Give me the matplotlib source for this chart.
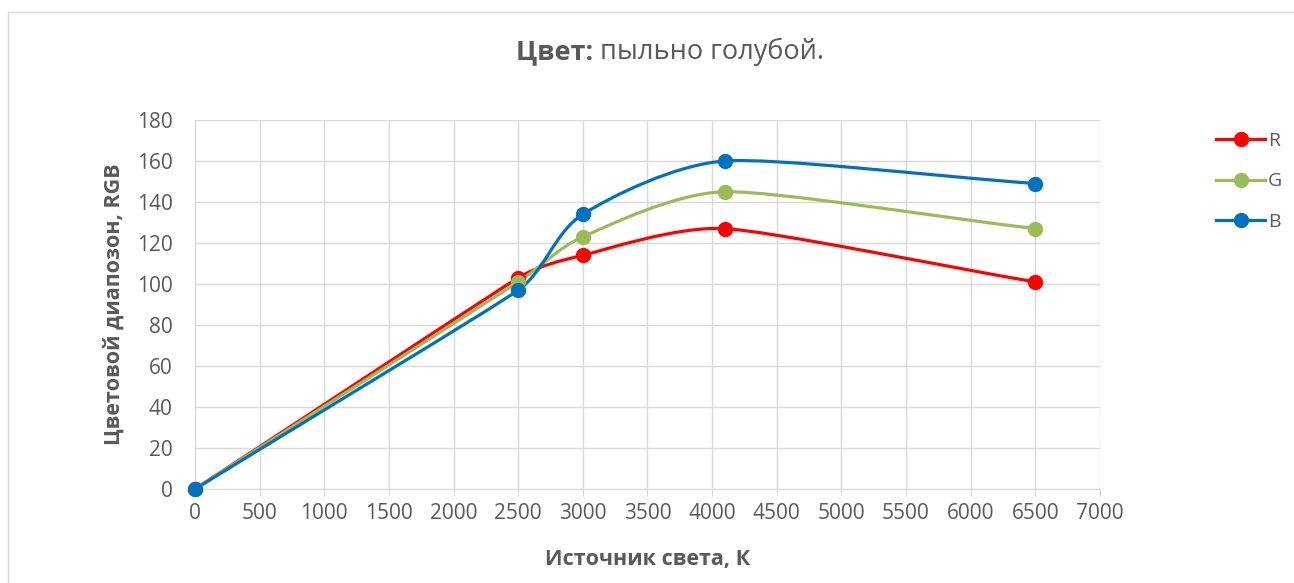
import matplotlib
matplotlib.use("Agg")
import matplotlib.pyplot as plt
from matplotlib.path import Path
from matplotlib.patches import PathPatch, Rectangle
from matplotlib.lines import Line2D

# data
kelvin = [0, 2500, 3000, 4100, 6500]
r_vals = [0, 103, 114, 127, 101]
g_vals = [0, 101, 123, 145, 127]
b_vals = [0, 97, 134, 160, 149]

series_names = ["R", "G", "B"]
series_colors = ["#FF0000", "#9BBB59", "#0070C0"]

plt.rcParams['font.family'] = ['Open Sans', 'DejaVu Sans']

# rough pixel scale of the axes, used only to measure segment lengths
SX = 905 / 7000
SY = 369 / 180


def seglen(a, b):
    return (((b[0] - a[0]) * SX) ** 2 + ((b[1] - a[1]) * SY) ** 2) ** 0.5


def handle(prev, cur, nxt, arm):
    # tangent direction at cur, scaled to the given arm length (in pixels)
    dx, dy = (nxt[0] - prev[0]), (nxt[1] - prev[1])
    n = seglen((0, 0), (dx, dy))
    if n == 0:
        return 0.0, 0.0
    return dx * arm / n, dy * arm / n


def smooth_path(xs, ys):
    """smoothed line like Excel: cubic Bezier, short arms near short segments"""
    pts = list(zip(xs, ys))
    verts = [pts[0]]
    codes = [Path.MOVETO]
    n = len(pts)
    for i in range(n - 1):
        p0 = pts[i - 1] if i > 0 else pts[i]
        p1 = pts[i]
        p2 = pts[i + 1]
        p3 = pts[i + 2] if i + 2 < n else pts[i + 1]
        d01, d12, d23 = seglen(p0, p1), seglen(p1, p2), seglen(p2, p3)
        a1 = min(d01, d12) / 3 if i > 0 else d12 / 3
        a2 = min(d12, d23) / 3 if i + 2 < n else d12 / 3
        h1 = handle(p0, p1, p2, a1)
        h2 = handle(p1, p2, p3, a2)
        c1 = (p1[0] + h1[0], p1[1] + h1[1])
        c2 = (p2[0] - h2[0], p2[1] - h2[1])
        verts += [c1, c2, p2]
        codes += [Path.CURVE4] * 3
    return Path(verts, codes)


fig = plt.figure(figsize=(12.94, 5.83), dpi=100)
ax = fig.add_axes([0.1507, 0.1612, 0.6993, 0.6330])

# chart border
fig.patches.append(Rectangle((8 / 1294, -0.01), 1.2, 1 - 12 / 583 + 0.01,
                             transform=fig.transFigure, fill=False,
                             edgecolor="#D9D9D9", linewidth=1))

for vals, name, col in zip([r_vals, g_vals, b_vals], series_names, series_colors):
    ax.add_patch(PathPatch(smooth_path(kelvin, vals), facecolor="none",
                           edgecolor=col, linewidth=2.3, zorder=3,
                           capstyle="round"))
    ax.plot(kelvin, vals, linestyle="none", marker="o", markersize=10,
            color=col, zorder=4, clip_on=False)

ax.set_xlim(0, 7000)
ax.set_ylim(0, 180)
ax.set_xticks(range(0, 7001, 500))
ax.set_yticks(range(0, 181, 20))
ax.grid(True, color="#D9D9D9", linewidth=1)
ax.set_axisbelow(True)
for s in ["top", "right", "left"]:
    ax.spines[s].set_visible(False)
ax.spines["bottom"].set_color("#D9D9D9")
ax.tick_params(axis="x", colors="#595959", labelsize=15, length=5,
               color="#D9D9D9", pad=5)
ax.tick_params(axis="y", colors="#595959", labelsize=15, length=0, pad=16)

ax.set_xlabel("Источник света, К", fontsize=15.5, fontweight="bold",
              color="#595959", labelpad=18)
ax.set_ylabel("Цветовой диапозон, RGB", fontsize=15.5, fontweight="bold",
              color="#595959", labelpad=9)

fig.text(0.464, 0.911, "Цвет: ", fontsize=19.5, fontweight="bold",
         color="#595959", ha="right", va="center")
fig.text(0.464, 0.911, "пыльно голубой.", fontsize=19.5,
         color="#595959", ha="left", va="center")

handles = [Line2D([], [], color=c, linewidth=2.3, marker="o", markersize=10)
           for c in series_colors]
leg = fig.legend(handles, series_names, loc="upper left",
                 bbox_to_anchor=(0.934, 0.787), frameon=False,
                 fontsize=14, labelspacing=1.15, handlelength=2.5,
                 handletextpad=0.15, borderaxespad=0)
for t in leg.get_texts():
    t.set_color("#595959")

fig.savefig("out.png", dpi=100)
